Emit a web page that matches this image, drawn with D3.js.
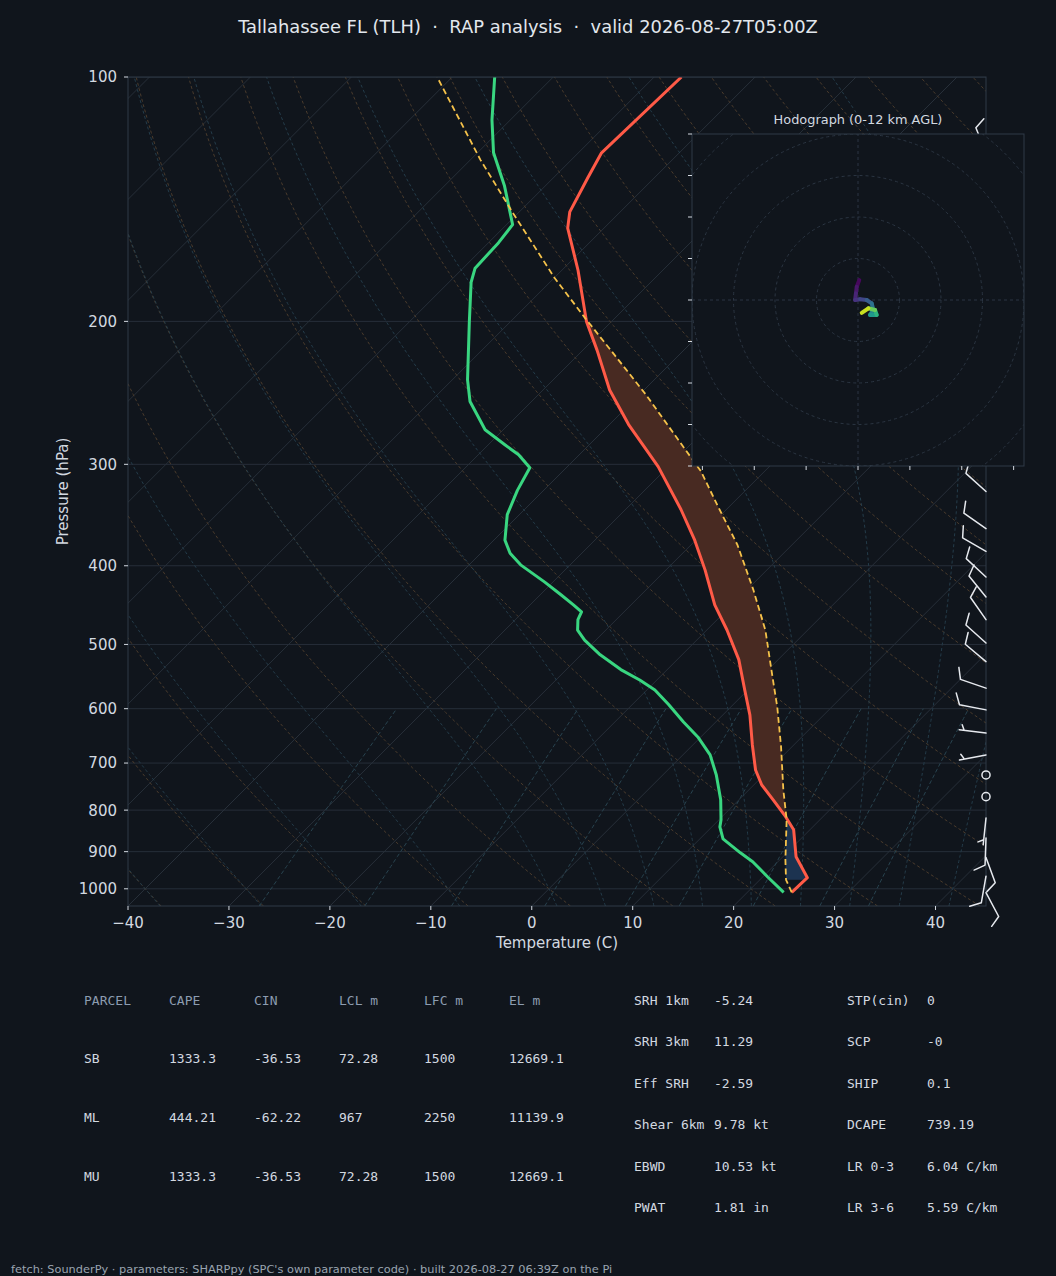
<!DOCTYPE html>
<html>
<head>
<meta charset="utf-8">
<script src="https://cdn.jsdelivr.net/npm/d3@7"></script>
<style>
  html, body { margin: 0; padding: 0; background: #10151c; }
  svg { display: block; }
  text { white-space: pre; }
</style>
</head>
<body>
<div id="chart"></div>
<script>
// ---- sounding ----
const tempPres = [1010, 969, 913, 846, 815, 777, 745, 714, 665, 611, 569, 522, 480, 447, 405, 372, 341, 302, 268, 243, 217, 200, 173, 153.5, 146.6, 133, 124, 100];
const tempC    = [24.4, 24.5, 21.3, 18.4, 16.3, 13.4, 10.8, 8.7, 5.9, 2.7, -0.3, -3.9, -8.0, -11.7, -16.1, -20.1, -24.5, -31.0, -38.1, -43.4, -48.6, -52.5, -58.4, -63.6, -65.0, -66.6, -67.7, -67.3];

const dewPres = [1010, 967, 926, 903, 868, 839, 822, 777, 724, 684, 650, 623, 593, 569, 553, 537, 515, 494, 480, 466, 456, 447, 434, 419, 399, 386, 372, 346, 323, 303, 292, 284, 272, 251, 236, 200, 179, 172, 160, 152, 136, 124, 113, 100];
const dewC    = [23.6, 20.5, 17.5, 15.4, 12.3, 10.8, 10.2, 8.2, 5.3, 2.7, -0.3, -3.2, -6.4, -9.2, -11.7, -14.6, -18.1, -21.1, -22.8, -23.8, -24.2, -25.7, -28.0, -30.8, -34.9, -37.1, -38.9, -41.2, -42.6, -43.6, -46.0, -48.3, -51.8, -56.1, -58.5, -64.1, -67.8, -68.8, -69.0, -69.4, -74.1, -78.4, -81.8, -85.8];

const parcelPres = [1010, 975, 921, 822, 755, 668, 597, 553, 480, 428, 377, 337, 306, 276, 246, 221, 198, 177, 146.6, 126.5, 100];
const parcelC    = [24.4, 22.6, 20.55, 16.7, 13.4, 8.9, 4.6, 1.5, -4.2, -9.4, -15.4, -21.3, -26.3, -32.5, -39.4, -46.1, -53.0, -59.9, -70.7, -79.0, -91.5];
const cinBase = 975;

// wind barbs: pressure (hPa), direction (deg from), speed (kt)
const windPres = [1011, 965, 915, 866, 818, 770, 724, 684, 643, 602, 566, 525, 498, 466, 437, 413, 384, 360, 324, 290, 260, 230, 200, 170, 145, 124];
const windDir  = [152, 190, 160, 182, 186, 0, 0, 259, 277, 281, 289, 310, 312, 325, 321, 313, 300, 305, 312, 315, 320, 330, 335, 340, 335, 338];
const windKt   = [10, 10, 10, 10, 5, 0, 0, 5, 5, 10, 10, 10, 10, 10, 10, 10, 10, 10, 10, 10, 10, 10, 10, 10, 10, 10];

// hodograph (m/s) with height AGL (km)
const hodoU  = [0.3, -0.3, -0.5, -0.7, 0.5, 2.1, 3.3, 3.7, 2.9, 4.5, 4.1, 2.5, 0.9];
const hodoV  = [4.8, 3.2, 1.6, 0.0, 0.2, 0.0, -0.8, -2.4, -3.6, -3.6, -2.4, -2.0, -3.1];
const hodoKm = [0, 0.5, 1, 1.5, 2, 3, 4, 5, 6, 7, 8.5, 10, 12];

const pTicks = [100, 200, 300, 400, 500, 600, 700, 800, 900, 1000];
const tTicks = [-40, -30, -20, -10, 0, 10, 20, 30, 40];

// background lines (MetPy defaults)
const isotherms = d3.range(-130, 41, 10);
const dryThetaC = d3.range(-40, 241, 10);
const moistT0 = [-40, -30, -20, -10].concat(d3.range(0, 96, 5));
const mixRatios = [0.0004, 0.001, 0.002, 0.004, 0.007, 0.01, 0.016, 0.024, 0.032];

// tables
const parcelHeader = ["PARCEL", "CAPE", "CIN", "LCL m", "LFC m", "EL m"];
const parcelRows = [
  ["SB", "1333.3", "-36.53", "72.28", "1500", "12669.1"],
  ["ML", "444.21", "-62.22", "967", "2250", "11139.9"],
  ["MU", "1333.3", "-36.53", "72.28", "1500", "12669.1"]
];
const kinLabels = ["SRH 1km", "SRH 3km", "Eff SRH", "Shear 6km", "EBWD", "PWAT"];
const kinValues = ["-5.24", "11.29", "-2.59", "9.78 kt", "10.53 kt", "1.81 in"];
const idxLabels = ["STP(cin)", "SCP", "SHIP", "DCAPE", "LR 0-3", "LR 3-6"];
const idxValues = ["0", "-0", "0.1", "739.19", "6.04 C/km", "5.59 C/km"];

const titleText = "Tallahassee FL (TLH)  \u00b7  RAP analysis  \u00b7  valid 2026-08-27T05:00Z";
const footerText = "fetch: SounderPy \u00b7 parameters: SHARPpy (SPC's own parameter code) \u00b7 built 2026-08-27 06:39Z on the Pi";

// ---- layout ----
const W = 1056, H = 1276;
const BG = "#10151c", FG = "#d3d9e0", SPINE = "#2f3a47";
const plot = { left: 128, right: 986, top: 77, bottom: 906 };

const x = d3.scaleLinear().domain([-40, 45]).range([plot.left, plot.right]);
const y = d3.scaleLog().domain([1050, 100]).range([plot.bottom, plot.top]);
const skew = (t, p) => x(t) + (plot.bottom - y(p));

const svg = d3.select("#chart").append("svg")
  .attr("width", W).attr("height", H)
  .attr("font-family", "DejaVu Sans, sans-serif");

svg.append("rect").attr("width", W).attr("height", H).attr("fill", BG);

svg.append("clipPath").attr("id", "plotclip")
  .append("rect")
  .attr("x", plot.left).attr("y", plot.top)
  .attr("width", plot.right - plot.left).attr("height", plot.bottom - plot.top);

const g = svg.append("g").attr("clip-path", "url(#plotclip)");

const line = d3.line()
  .defined(d => isFinite(d[1]))
  .x(d => skew(d[1], d[0]))
  .y(d => y(d[0]));

// pressure grid
g.selectAll(".pgrid").data(pTicks).enter().append("line")
  .attr("x1", plot.left).attr("x2", plot.right)
  .attr("y1", d => y(d)).attr("y2", d => y(d))
  .attr("stroke", "#262e39").attr("stroke-width", 1);

// isotherms
g.selectAll(".iso").data(isotherms).enter().append("path")
  .attr("d", t => line([[1050, t], [100, t]]))
  .attr("fill", "none").attr("stroke", "#272f39").attr("stroke-width", 1);

const pGrid = d3.range(0, 61).map(i => 1050 * Math.pow(100 / 1050, i / 60));

// dry adiabats
g.selectAll(".dry").data(dryThetaC).enter().append("path")
  .attr("d", th => line(pGrid.map(p => [p, (th + 273.15) * Math.pow(p / 1000, 0.28571) - 273.15])))
  .attr("fill", "none").attr("stroke", "#4a3b2c").attr("stroke-width", 1)
  .attr("stroke-dasharray", "3,2.5");

// moist adiabats (numerical integration of the moist lapse rate)
const Rd = 287.04749, Cpd = 1004.6662, Lv = 2.50084e6, eps = 0.62197;
function dTdp(p, T) {
  const es = 6.112 * Math.exp(17.67 * (T - 273.15) / (T - 29.65));
  const rs = eps * es / (p - es);
  return (Rd * T + Lv * rs) / (Cpd + (Lv * Lv * rs * eps) / (Rd * T * T)) / p;
}
function integrate(t0, pEnd, dp) {
  const out = [];
  let p = 1000, T = t0 + 273.15;
  while ((dp < 0 && p > pEnd) || (dp > 0 && p < pEnd)) {
    const k1 = dTdp(p, T);
    const k2 = dTdp(p + dp / 2, T + dp / 2 * k1);
    const k3 = dTdp(p + dp / 2, T + dp / 2 * k2);
    const k4 = dTdp(p + dp, T + dp * k3);
    T += dp / 6 * (k1 + 2 * k2 + 2 * k3 + k4);
    p += dp;
    out.push([p, T - 273.15]);
  }
  return out;
}
function moistAdiabat(t0) {
  const down = integrate(t0, 1050, 5).reverse();
  const up = integrate(t0, 100, -5);
  return down.concat([[1000, t0]], up).filter(d => isFinite(d[1]));
}
g.selectAll(".moist").data(moistT0).enter().append("path")
  .attr("d", t0 => line(moistAdiabat(t0)))
  .attr("fill", "none").attr("stroke", "#243c4a").attr("stroke-width", 1)
  .attr("stroke-dasharray", "3,2.5");

// mixing ratio lines
const pMix = d3.range(0, 21).map(i => 1050 * Math.pow(600 / 1050, i / 20));
function dewFromW(p, w) {
  const e = p * w / (eps + w);
  const v = Math.log(e / 6.112);
  return 243.5 * v / (17.67 - v);
}
g.selectAll(".mix").data(mixRatios).enter().append("path")
  .attr("d", w => line(pMix.map(p => [p, dewFromW(p, w)])))
  .attr("fill", "none").attr("stroke", "#28434f").attr("stroke-width", 1)
  .attr("stroke-dasharray", "4,2.5");

// CAPE / CIN shading
const envAt = d3.scaleLog().domain(tempPres).range(tempC);
const parAt = d3.scaleLog().domain(parcelPres).range(parcelC);
const fine = d3.range(0, 801).map(i => cinBase * Math.pow(100 / cinBase, i / 800))
  .map(p => ({ p, env: envAt(p), par: parAt(p) }));
const segs = [];
let cur = [fine[0]];
for (let i = 1; i < fine.length; i++) {
  const a = fine[i - 1], b = fine[i];
  const da = a.par - a.env, db = b.par - b.env;
  if ((da < 0) !== (db < 0)) {
    const f = da / (da - db);
    const lp = Math.log(a.p) + f * (Math.log(b.p) - Math.log(a.p));
    const c = { p: Math.exp(lp), env: a.env + f * (b.env - a.env) };
    c.par = c.env;
    cur.push(c);
    segs.push({ pos: da >= 0, pts: cur });
    cur = [c];
  }
  cur.push(b);
}
segs.push({ pos: (cur[cur.length - 1].par - cur[cur.length - 1].env) >= 0, pts: cur });

const area = d3.area()
  .y(d => y(d.p))
  .x0(d => skew(d.env, d.p))
  .x1(d => skew(d.par, d.p));

const cinSeg = segs.find(s => !s.pos);
const capeSeg = segs.find(s => s.pos);
if (cinSeg) g.append("path").attr("d", area(cinSeg.pts)).attr("fill", "#1c3350");
if (capeSeg) g.append("path").attr("d", area(capeSeg.pts)).attr("fill", "#482a22");

// profiles
const profLine = d3.line().x(d => skew(d[1], d[0])).y(d => y(d[0]));
g.append("path")
  .attr("d", profLine(tempPres.map((p, i) => [p, tempC[i]])))
  .attr("fill", "none").attr("stroke", "#ff5a47").attr("stroke-width", 3)
  .attr("stroke-linejoin", "round");
g.append("path")
  .attr("d", profLine(dewPres.map((p, i) => [p, dewC[i]])))
  .attr("fill", "none").attr("stroke", "#39d680").attr("stroke-width", 3)
  .attr("stroke-linejoin", "round");
g.append("path")
  .attr("d", profLine(parcelPres.map((p, i) => [p, parcelC[i]])))
  .attr("fill", "none").attr("stroke", "#f5c24a").attr("stroke-width", 1.8)
  .attr("stroke-dasharray", "6,3.5");

// spines
svg.append("rect")
  .attr("x", plot.left).attr("y", plot.top)
  .attr("width", plot.right - plot.left).attr("height", plot.bottom - plot.top)
  .attr("fill", "none").attr("stroke", SPINE).attr("stroke-width", 1);

// y axis ticks
const yt = svg.append("g").selectAll("g").data(pTicks).enter().append("g");
yt.append("line")
  .attr("x1", plot.left - 4).attr("x2", plot.left)
  .attr("y1", d => y(d)).attr("y2", d => y(d))
  .attr("stroke", FG).attr("stroke-width", 1);
yt.append("text")
  .attr("x", plot.left - 11).attr("y", d => y(d)).attr("dy", "0.36em")
  .attr("text-anchor", "end").attr("fill", FG).attr("font-size", 15)
  .text(d => d);

// x axis ticks
const xt = svg.append("g").selectAll("g").data(tTicks).enter().append("g");
xt.append("line")
  .attr("x1", d => x(d)).attr("x2", d => x(d))
  .attr("y1", plot.bottom).attr("y2", plot.bottom + 4)
  .attr("stroke", FG).attr("stroke-width", 1);
xt.append("text")
  .attr("x", d => x(d)).attr("y", plot.bottom + 22)
  .attr("text-anchor", "middle").attr("fill", FG).attr("font-size", 15)
  .text(d => d < 0 ? "\u2212" + Math.abs(d) : d);

svg.append("text")
  .attr("x", (plot.left + plot.right) / 2).attr("y", 948)
  .attr("text-anchor", "middle").attr("fill", FG).attr("font-size", 15)
  .text("Temperature (C)");
svg.append("text")
  .attr("transform", `translate(63,${(plot.top + plot.bottom) / 2}) rotate(-90)`)
  .attr("dy", "0.36em")
  .attr("text-anchor", "middle").attr("fill", FG).attr("font-size", 15)
  .text("Pressure (hPa)");

// wind barbs along right spine
function barb(sel, p, dir, kt) {
  const bx = plot.right, by = y(p);
  const L = 27, hgt = 0.4 * L, sp = 0.125 * L;
  const spd = 5 * Math.round(kt / 5);
  if (spd === 0) {
    sel.append("circle").attr("cx", bx).attr("cy", by).attr("r", 0.15 * L)
      .attr("fill", "none").attr("stroke", "#e6e9ee").attr("stroke-width", 1.5);
    return;
  }
  const r = dir * Math.PI / 180;
  const ux = Math.sin(r), uy = -Math.cos(r);
  const px = -uy, py = ux;
  const pt = (s, h) => [bx + ux * s + px * h, by + uy * s + py * h];
  const nFull = Math.floor(spd / 10);
  const half = spd - nFull * 10 >= 5;
  const segsB = [[pt(0, 0), pt(L, 0)]];
  let off = L;
  for (let i = 0; i < nFull; i++) {
    segsB.push([pt(off, 0), pt(off + hgt / 2, hgt)]);
    off -= sp;
  }
  if (half) {
    if (off === L) off -= 1.5 * sp;
    segsB.push([pt(off, 0), pt(off + hgt / 4, hgt / 2)]);
  }
  sel.append("path")
    .attr("d", segsB.map(s => d3.line()(s)).join(""))
    .attr("fill", "none").attr("stroke", "#e6e9ee").attr("stroke-width", 1.5)
    .attr("stroke-linecap", "round");
}
const barbs = svg.append("g");
windPres.forEach((p, i) => barb(barbs, p, windDir[i], windKt[i]));

// ---- hodograph inset ----
const hodo = { left: 692, top: 134, size: 332 };
const hx = d3.scaleLinear().domain([-40, 40]).range([hodo.left, hodo.left + hodo.size]);
const hy = d3.scaleLinear().domain([-40, 40]).range([hodo.top + hodo.size, hodo.top]);
svg.append("clipPath").attr("id", "hodoclip")
  .append("rect").attr("x", hodo.left).attr("y", hodo.top)
  .attr("width", hodo.size).attr("height", hodo.size);
svg.append("rect")
  .attr("x", hodo.left).attr("y", hodo.top).attr("width", hodo.size).attr("height", hodo.size)
  .attr("fill", BG);
const hg = svg.append("g").attr("clip-path", "url(#hodoclip)");
hg.selectAll("circle").data([10, 20, 30, 40, 50, 60]).enter().append("circle")
  .attr("cx", hx(0)).attr("cy", hy(0)).attr("r", d => hx(d) - hx(0))
  .attr("fill", "none").attr("stroke", "#2b3542").attr("stroke-width", 1)
  .attr("stroke-dasharray", "3,3");
hg.append("line").attr("x1", hx(-40)).attr("x2", hx(40)).attr("y1", hy(0)).attr("y2", hy(0))
  .attr("stroke", "#2b3542").attr("stroke-dasharray", "3,3");
hg.append("line").attr("x1", hx(0)).attr("x2", hx(0)).attr("y1", hy(-40)).attr("y2", hy(40))
  .attr("stroke", "#2b3542").attr("stroke-dasharray", "3,3");

const hodoPts = hodoU.map((u, i) => ({ u, v: hodoV[i], km: hodoKm[i] }));
hg.selectAll(".seg").data(d3.pairs(hodoPts)).enter().append("line")
  .attr("x1", d => hx(d[0].u)).attr("y1", d => hy(d[0].v))
  .attr("x2", d => hx(d[1].u)).attr("y2", d => hy(d[1].v))
  .attr("stroke", d => d3.interpolateViridis((d[0].km + d[1].km) / 24))
  .attr("stroke-width", 4).attr("stroke-linecap", "round");

svg.append("rect")
  .attr("x", hodo.left).attr("y", hodo.top).attr("width", hodo.size).attr("height", hodo.size)
  .attr("fill", "none").attr("stroke", SPINE).attr("stroke-width", 1);
svg.append("g").selectAll("line").data(d3.range(-40, 41, 10)).enter().append("line")
  .attr("x1", hodo.left - 4).attr("x2", hodo.left)
  .attr("y1", d => hy(d)).attr("y2", d => hy(d))
  .attr("stroke", FG);
svg.append("g").selectAll("line").data(d3.range(-37.5, 38, 12.5)).enter().append("line")
  .attr("x1", d => hx(d)).attr("x2", d => hx(d))
  .attr("y1", hodo.top + hodo.size).attr("y2", hodo.top + hodo.size + 4)
  .attr("stroke", FG);
svg.append("text")
  .attr("x", hx(0)).attr("y", 124)
  .attr("text-anchor", "middle").attr("fill", FG).attr("font-size", 12.9)
  .text("Hodograph (0-12 km AGL)");

// ---- title & footer ----
svg.append("text")
  .attr("x", W / 2).attr("y", 33)
  .attr("text-anchor", "middle").attr("fill", "#e2e7ed").attr("font-size", 17.9)
  .text(titleText);
svg.append("text")
  .attr("x", 11).attr("y", 1273)
  .attr("fill", "#9aa4b0").attr("font-size", 11.35)
  .text(footerText);

// ---- parameter tables ----
const mono = "DejaVu Sans Mono, monospace";
const colX = [84, 169, 254, 339, 424, 509];
const tbl = svg.append("g").attr("font-family", mono).attr("font-size", 13);
tbl.selectAll(".hdr").data(parcelHeader).enter().append("text")
  .attr("x", (d, i) => colX[i]).attr("y", 1004.5)
  .attr("fill", "#8c9cb0").text(d => d);
parcelRows.forEach((row, r) => {
  tbl.selectAll(".r" + r).data(row).enter().append("text")
    .attr("x", (d, i) => colX[i]).attr("y", 1062.5 + r * 59)
    .attr("fill", FG).text(d => d);
});
const rowY = i => 1004.5 + i * 41.5;
tbl.selectAll(".kl").data(kinLabels).enter().append("text")
  .attr("x", 634).attr("y", (d, i) => rowY(i)).attr("fill", FG).text(d => d);
tbl.selectAll(".kv").data(kinValues).enter().append("text")
  .attr("x", 714).attr("y", (d, i) => rowY(i)).attr("fill", FG).text(d => d);
tbl.selectAll(".il").data(idxLabels).enter().append("text")
  .attr("x", 847).attr("y", (d, i) => rowY(i)).attr("fill", FG).text(d => d);
tbl.selectAll(".iv").data(idxValues).enter().append("text")
  .attr("x", 927).attr("y", (d, i) => rowY(i)).attr("fill", FG).text(d => d);
</script>
</body>
</html>
